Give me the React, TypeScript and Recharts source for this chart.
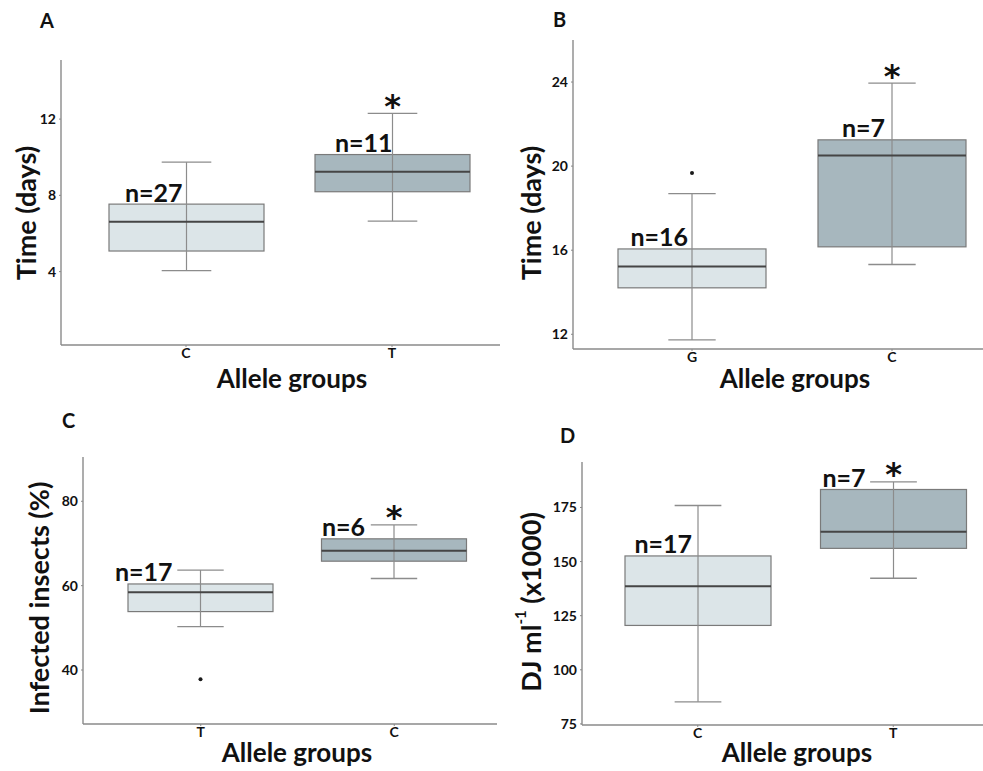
import React from "react";
import { ComposedChart, Bar, XAxis, YAxis } from "recharts";

// Panel A: time (days) by allele
const allelesA = ["C", "T"];
const minA = [4.05, 6.65];
const q1A = [5.08, 8.19];
const medianA = [6.61, 9.24];
const q3A = [7.54, 10.14];
const maxA = [9.74, 12.3];
const outlierA: (number | null)[] = [null, null];
const nA = [27, 11];
const ticksA = [4, 8, 12];

// Panel B: time (days) by allele
const allelesB = ["G", "C"];
const minB = [11.73, 15.32];
const q1B = [14.21, 16.16];
const medianB = [15.23, 20.51];
const q3B = [16.06, 21.25];
const maxB = [18.69, 23.95];
const outlierB: (number | null)[] = [19.67, null];
const nB = [16, 7];
const ticksB = [12, 16, 20, 24];

// Panel C: infected insects (%)
const allelesC = ["T", "C"];
const minC = [50.3, 61.7];
const q1C = [53.85, 65.8];
const medianC = [58.44, 68.3];
const q3C = [60.4, 71.1];
const maxC = [63.7, 74.4];
const outlierC: (number | null)[] = [37.8, null];
const nC = [17, 6];
const ticksC = [40, 60, 80];

// Panel D: DJ per ml (x1000)
const allelesD = ["C", "T"];
const minD = [85.2, 142.3];
const q1D = [120.5, 156.1];
const medianD = [138.6, 163.8];
const q3D = [152.6, 183.3];
const maxD = [175.9, 186.8];
const outlierD: (number | null)[] = [null, null];
const nD = [17, 7];
const ticksD = [75, 100, 125, 150, 175];

// second group differs significantly in every panel
const significant = [false, true];

const FONT = "Lato, 'Open Sans', 'DejaVu Sans', sans-serif";
const STAR_FONT = "'DejaVu Sans', sans-serif";
const AXIS = "#8a8a8a";
const FILLS = ["#dce5e8", "#a7b7be"];

type Row = {
  group: string;
  min: number;
  q1: number;
  median: number;
  q3: number;
  max: number;
  outlier: number | null;
  n: number;
  star: boolean;
};

function buildRows(
  groups: string[],
  mins: number[],
  q1s: number[],
  medians: number[],
  q3s: number[],
  maxs: number[],
  outliers: (number | null)[],
  ns: number[]
): Row[] {
  return groups.map((group, i) => ({
    group,
    min: mins[i],
    q1: q1s[i],
    median: medians[i],
    q3: q3s[i],
    max: maxs[i],
    outlier: outliers[i],
    n: ns[i],
    star: significant[i],
  }));
}

const rowsA = buildRows(allelesA, minA, q1A, medianA, q3A, maxA, outlierA, nA);
const rowsB = buildRows(allelesB, minB, q1B, medianB, q3B, maxB, outlierB, nB);
const rowsC = buildRows(allelesC, minC, q1C, medianC, q3C, maxC, outlierC, nC);
const rowsD = buildRows(allelesD, minD, q1D, medianD, q3D, maxD, outlierD, nD);

// The bar spans min..max, so its own geometry gives the y scale for the box parts
function BoxShape(props: any) {
  const { x, y, width, height, payload, index, labelShift } = props;
  const d: Row = payload;
  const k = height / (d.max - d.min);
  const yOf = (v: number) => y + (d.max - v) * k;
  const cx = x + width / 2;
  const cap = width * 0.32;
  const shift = labelShift[index] ?? 0;
  return (
    <g>
      <rect
        x={x}
        y={yOf(d.q3)}
        width={width}
        height={yOf(d.q1) - yOf(d.q3)}
        fill={FILLS[index]}
        stroke="#7a7a7a"
        strokeWidth={1.2}
      />
      <line x1={cx} x2={cx} y1={yOf(d.max)} y2={yOf(d.min)} stroke="#8c8c8c" strokeWidth={1.2} />
      <line x1={cx - cap / 2} x2={cx + cap / 2} y1={yOf(d.max)} y2={yOf(d.max)} stroke="#8c8c8c" strokeWidth={1.3} />
      <line x1={cx - cap / 2} x2={cx + cap / 2} y1={yOf(d.min)} y2={yOf(d.min)} stroke="#8c8c8c" strokeWidth={1.3} />
      <line x1={x} x2={x + width} y1={yOf(d.median)} y2={yOf(d.median)} stroke="#454545" strokeWidth={2} />
      {d.outlier != null && <circle cx={cx} cy={yOf(d.outlier)} r={2} fill="#1a1a1a" />}
      <text
        x={cx - shift}
        y={yOf(d.q3) - 2.5}
        textAnchor="end"
        fontFamily={FONT}
        fontWeight={700}
        fontSize={25}
        fill="#111"
      >
        {`n=${d.n}`}
      </text>
      {d.star && (
        <text x={cx} y={yOf(d.max) + 3.5} textAnchor="middle" fontFamily={STAR_FONT} fontWeight={700} fontSize={32} fill="#111">
          *
        </text>
      )}
    </g>
  );
}

type Layout = {
  left: number;
  top: number;
  bottom: number;
  right: number;
  padL: number;
  padR: number;
  barSize: number;
  labelShift: number[];
};

function BoxPanel({
  rows,
  domain,
  ticks,
  layout,
}: {
  rows: Row[];
  domain: [number, number];
  ticks: number[];
  layout: Layout;
}) {
  const { left, top, bottom, right, padL, padR, barSize, labelShift } = layout;
  const sx = left - 50;
  const sy = top - 20;
  const width = right + 10 - sx;
  const height = bottom + 30 - sy;
  const tick = { fontSize: 14, fontWeight: 700, fontFamily: FONT, fill: "#111" };
  return (
    <div style={{ position: "absolute", left: sx, top: sy }}>
      <ComposedChart
        width={width}
        height={height}
        data={rows}
        margin={{ top: 20, left: 10, right: 10, bottom: 5 }}
        style={{ overflow: "visible" }}
      >
        <XAxis
          dataKey="group"
          type="category"
          padding={{ left: padL, right: padR }}
          height={25}
          tick={tick}
          tickSize={2}
          tickMargin={1}
          axisLine={{ stroke: AXIS, strokeWidth: 1.4 }}
          tickLine={{ stroke: AXIS }}
        />
        <YAxis
          type="number"
          domain={domain}
          ticks={ticks}
          allowDataOverflow
          width={40}
          tick={tick}
          tickSize={2}
          tickMargin={3}
          axisLine={{ stroke: AXIS, strokeWidth: 1.4 }}
          tickLine={{ stroke: AXIS }}
        />
        <Bar
          dataKey={(r: Row) => [r.min, r.max]}
          barSize={barSize}
          isAnimationActive={false}
          shape={(p: any) => <BoxShape {...p} labelShift={labelShift} />}
        />
      </ComposedChart>
    </div>
  );
}

const titleStyle = { fontFamily: FONT, fontWeight: 700, fill: "#111" } as const;

function VTitle({ x, y, children }: { x: number; y: number; children: React.ReactNode }) {
  return (
    <text
      transform={`translate(${x},${y}) rotate(-90)`}
      textAnchor="middle"
      dominantBaseline="central"
      fontSize={27}
      {...titleStyle}
    >
      {children}
    </text>
  );
}

export default function App() {
  return (
    <div
      style={{
        position: "fixed",
        left: 0,
        top: 0,
        width: 983,
        height: 771,
        overflow: "hidden",
        background: "#fff",
      }}
    >
      <BoxPanel
        rows={rowsA}
        domain={[0.15, 15.1]}
        ticks={ticksA}
        layout={{ left: 61, top: 60, bottom: 345, right: 500, padL: 22, padR: 5, barSize: 155, labelShift: [4, 0] }}
      />
      <BoxPanel
        rows={rowsB}
        domain={[11.3, 26]}
        ticks={ticksB}
        layout={{ left: 573, top: 40, bottom: 349, right: 1011, padL: 19, padR: 19, barSize: 148, labelShift: [4, 7] }}
      />
      <BoxPanel
        rows={rowsC}
        domain={[27.2, 90.5]}
        ticks={ticksC}
        layout={{ left: 83, top: 457, bottom: 724, right: 497, padL: 21, padR: 6, barSize: 145, labelShift: [28, 29] }}
      />
      <BoxPanel
        rows={rowsD}
        domain={[74.5, 196]}
        ticks={ticksD}
        layout={{ left: 582, top: 462, bottom: 725, right: 1010, padL: 18, padR: 19, barSize: 146, labelShift: [6, 28] }}
      />
      <svg
        width={983}
        height={771}
        style={{ position: "absolute", left: 0, top: 0, pointerEvents: "none" }}
      >
        <text x={40} y={28} fontSize={20} {...titleStyle}>A</text>
        <text x={553} y={27} fontSize={20} {...titleStyle}>B</text>
        <text x={62} y={428} fontSize={20} {...titleStyle}>C</text>
        <text x={560} y={443} fontSize={20} {...titleStyle}>D</text>

        <VTitle x={25} y={213}>Time (days)</VTitle>
        <VTitle x={530} y={213}>Time (days)</VTitle>
        <VTitle x={38} y={598}>Infected insects (%)</VTitle>
        <VTitle x={530} y={602}>
          DJ ml
          <tspan fontSize={15} dy={-10}>-1</tspan>
          <tspan dy={10}> (x1000)</tspan>
        </VTitle>

        <text x={292} y={388} textAnchor="middle" fontSize={26} {...titleStyle}>Allele groups</text>
        <text x={795} y={388} textAnchor="middle" fontSize={26} {...titleStyle}>Allele groups</text>
        <text x={297} y={762} textAnchor="middle" fontSize={26} {...titleStyle}>Allele groups</text>
        <text x={797} y={762} textAnchor="middle" fontSize={26} {...titleStyle}>Allele groups</text>
      </svg>
    </div>
  );
}
